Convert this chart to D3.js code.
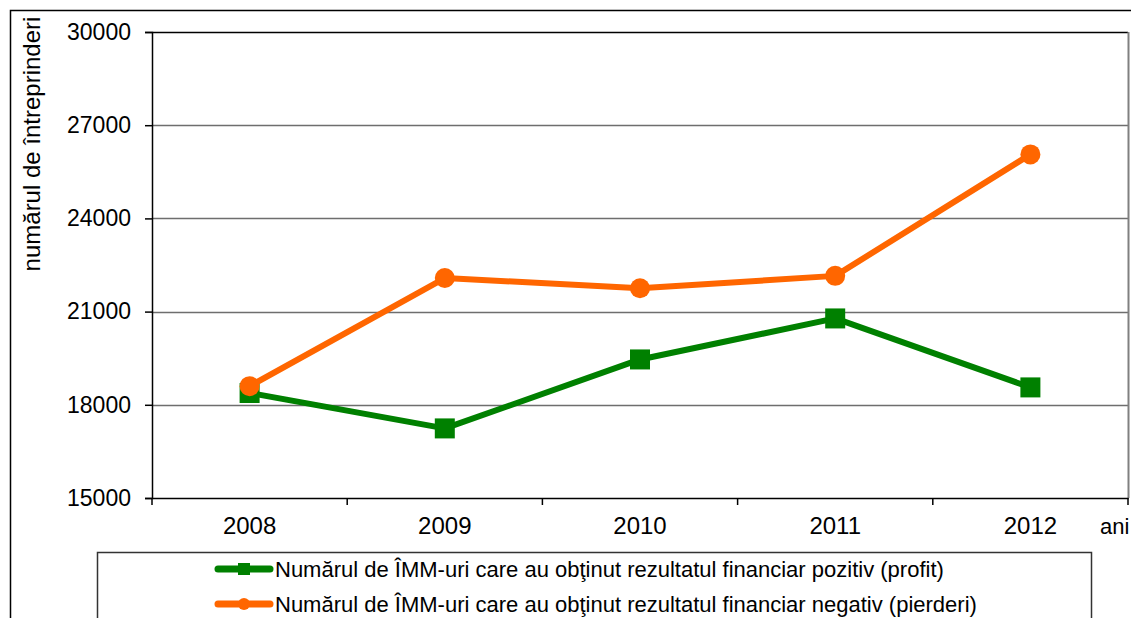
<!DOCTYPE html>
<html>
<head>
<meta charset="utf-8">
<script src="https://cdn.jsdelivr.net/npm/d3@7"></script>
<style>
body { margin: 0; background: #fff; }
text { font-family: "Liberation Sans", Arial, sans-serif; fill: #000; }
</style>
</head>
<body>
<script>
// date
var years = ['2008', '2009', '2010', '2011', '2012'];
var profit = [18380, 17240, 19460, 20780, 18560];
var pierderi = [18600, 22080, 21750, 22150, 26060];
var yTicks = [15000, 18000, 21000, 24000, 27000, 30000];
var seriesNames = [
  'Numărul de ÎMM-uri care au obţinut rezultatul financiar pozitiv (profit)',
  'Numărul de ÎMM-uri care au obţinut rezultatul financiar negativ (pierderi)'
];

var WIDTH = 1131;
var HEIGHT = 618;
var pLeft = 152, pRight = 1128, pTop = 32, pBottom = 498;

var svg = d3.select('body')
.append('svg')
.attr('width', WIDTH)
.attr('height', HEIGHT);

// cadrul exterior
svg.append('rect')
.attr('x', 10.5).attr('y', 10.5)
.attr('width', 1140).attr('height', 700)
.attr('fill', 'none').attr('stroke', '#000').attr('stroke-width', 1.5);

var x = d3.scaleBand().domain(years).range([pLeft, pRight]);
var y = d3.scaleLinear().domain([15000, 30000]).range([pBottom, pTop]);

// linii de grila
svg.selectAll('line.grid')
.data(yTicks.slice(1, -1))
.enter()
.append('line')
.attr('class', 'grid')
.attr('x1', pLeft).attr('x2', pRight)
.attr('y1', function(d){ return Math.round(y(d)) + 0.5; })
.attr('y2', function(d){ return Math.round(y(d)) + 0.5; })
.attr('stroke', '#6e6e6e').attr('stroke-width', 1.5);

// marginea de sus si dreapta a zonei
svg.append('line')
.attr('x1', pLeft).attr('x2', pRight)
.attr('y1', pTop + 0.5).attr('y2', pTop + 0.5)
.attr('stroke', '#000').attr('stroke-width', 1.5);
svg.append('line')
.attr('x1', pRight + 0.5).attr('x2', pRight + 0.5)
.attr('y1', pTop).attr('y2', pBottom)
.attr('stroke', '#808080').attr('stroke-width', 2);

// axa Y
var yAxis = svg.append('g')
.attr('transform', 'translate(' + pLeft + ',0)')
.call(d3.axisLeft(y).tickValues(yTicks).tickSize(7).tickPadding(14).tickFormat(d3.format('d')));
yAxis.select('.domain').attr('stroke', '#000').attr('stroke-width', 1.5);
yAxis.selectAll('.tick line').attr('stroke', '#000').attr('stroke-width', 1.5);
yAxis.selectAll('text').style('font-size', '23px').attr('fill', '#000');

// axa X
var xAxis = svg.append('g')
.attr('transform', 'translate(0,' + pBottom + ')')
.call(d3.axisBottom(x).tickSize(0).tickPadding(19));
xAxis.select('.domain').attr('stroke', '#000').attr('stroke-width', 1.5);
xAxis.selectAll('text').style('font-size', '24px').attr('fill', '#000');

// semne intre categorii
var bounds = years.map(function(d){ return x(d); }).concat([pRight]);
svg.selectAll('line.xtick')
.data(bounds)
.enter()
.append('line')
.attr('class', 'xtick')
.attr('x1', function(d){ return d; }).attr('x2', function(d){ return d; })
.attr('y1', pBottom).attr('y2', pBottom + 7)
.attr('stroke', '#000').attr('stroke-width', 1.5);

svg.append('text')
.attr('x', 1100).attr('y', 534)
.style('font-size', '22px')
.text('ani');

svg.append('text')
.attr('transform', 'translate(40,144) rotate(-90)')
.attr('text-anchor', 'middle')
.style('font-size', '24px')
.text('numărul de întreprinderi');

var cx = function(d, i){ return x(years[i]) + x.bandwidth() / 2; };
var line = d3.line()
.x(function(d, i){ return cx(d, i); })
.y(function(d){ return y(d); });

// seria verde (profit)
svg.append('path')
.datum(profit)
.attr('d', line)
.attr('fill', 'none')
.attr('stroke', '#008000')
.attr('stroke-width', 6)
.attr('stroke-linejoin', 'round');

svg.selectAll('rect.profit')
.data(profit)
.enter()
.append('rect')
.attr('class', 'profit')
.attr('x', function(d, i){ return cx(d, i) - 10; })
.attr('y', function(d){ return y(d) - 10; })
.attr('width', 20).attr('height', 20)
.attr('fill', '#008000');

// seria portocalie (pierderi)
svg.append('path')
.datum(pierderi)
.attr('d', line)
.attr('fill', 'none')
.attr('stroke', '#ff6600')
.attr('stroke-width', 6)
.attr('stroke-linejoin', 'round');

svg.selectAll('circle.pierderi')
.data(pierderi)
.enter()
.append('circle')
.attr('class', 'pierderi')
.attr('cx', function(d, i){ return cx(d, i); })
.attr('cy', function(d){ return y(d); })
.attr('r', 10)
.attr('fill', '#ff6600');

// legenda
svg.append('rect')
.attr('x', 97.5).attr('y', 552.5)
.attr('width', 994).attr('height', 100)
.attr('fill', '#fff').attr('stroke', '#333').attr('stroke-width', 1.5);

var colors = ['#008000', '#ff6600'];
var legend = svg.selectAll('g.leg')
.data(seriesNames)
.enter()
.append('g')
.attr('class', 'leg')
.attr('transform', function(d, i){ return 'translate(0,' + (569 + i * 35) + ')'; });

legend.append('line')
.attr('x1', 218).attr('x2', 270)
.attr('y1', 0).attr('y2', 0)
.attr('stroke', function(d, i){ return colors[i]; })
.attr('stroke-width', 7)
.attr('stroke-linecap', 'round');

legend.each(function(d, i){
  var g = d3.select(this);
  if (i === 0) {
    g.append('rect').attr('x', 238).attr('y', -6).attr('width', 12).attr('height', 12).attr('fill', colors[i]);
  } else {
    g.append('circle').attr('cx', 244).attr('cy', 0).attr('r', 6).attr('fill', colors[i]);
  }
});

legend.append('text')
.attr('x', 275).attr('y', 8)
.style('font-size', '22px')
.text(function(d){ return d; });
</script>
</body>
</html>
